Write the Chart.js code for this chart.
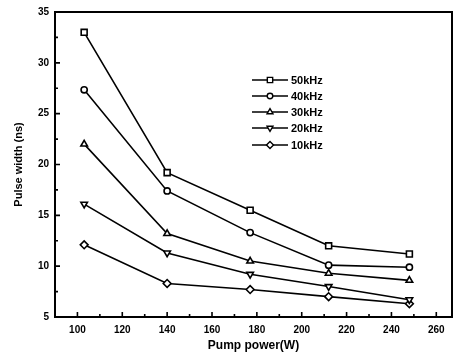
<!DOCTYPE html>
<html>
<head>
<meta charset="utf-8">
<script src="https://cdn.jsdelivr.net/npm/chart.js@4/dist/chart.umd.min.js"></script>
<style>
  html, body { margin: 0; padding: 0; background: #fff; }
  #wrap { width: 460px; height: 361px; }
</style>
</head>
<body>
<div id="wrap"><canvas id="pulseChart" width="460" height="361"></canvas></div>
<script>
// pump power (W) for each measurement
const pumpPower = [103, 140, 177, 212, 248];

// pulse width (ns) per repetition rate
const width50k = [33.0, 19.2, 15.5, 12.0, 11.2];
const width40k = [27.35, 17.4, 13.3, 10.1, 9.9];
const width30k = [22.0, 13.2, 10.5, 9.3, 8.6];
const width20k = [16.1, 11.3, 9.2, 8.0, 6.7];
const width10k = [12.1, 8.3, 7.7, 7.0, 6.3];

const seriesLabels = ['50kHz', '40kHz', '30kHz', '20kHz', '10kHz'];
const xTicks = [100, 120, 140, 160, 180, 200, 220, 240, 260];
const yTicks = [5, 10, 15, 20, 25, 30, 35];

const FONT = 'Liberation Sans, Arial, sans-serif';

const makeSet = (label, values, style, r, rot) => ({
    label: label,
    data: pumpPower.map((p, i) => ({ x: p, y: values[i] })),
    borderColor: '#000',
    borderWidth: 1.6,
    pointStyle: style,
    rotation: rot || 0,
    pointRadius: r,
    pointBorderWidth: 1.6,
    pointBackgroundColor: '#fff',
    pointBorderColor: '#000',
    fill: false,
    tension: 0
});

// legend drawn inside the plot: short line + marker + text
const insideLegend = {
    id: 'insideLegend',
    afterDraw(chart) {
        const ctx = chart.ctx;
        const x0 = 252, x1 = 288, ys = [80, 96, 112, 128, 145];
        ctx.save();
        chart.data.datasets.forEach((ds, i) => {
            const y = ys[i];
            ctx.strokeStyle = '#000';
            ctx.lineWidth = 1.4;
            ctx.beginPath();
            ctx.moveTo(x0, y);
            ctx.lineTo(x1, y);
            ctx.stroke();
            ctx.fillStyle = '#fff';
            ctx.lineWidth = 1.4;
            Chart.helpers.drawPoint(ctx, {
                pointStyle: ds.pointStyle, rotation: ds.rotation,
                radius: ds.pointRadius * 0.9, borderWidth: 1.4
            }, (x0 + x1) / 2, y);
            ctx.fillStyle = '#000';
            ctx.font = 'bold 11px ' + FONT;
            ctx.textBaseline = 'middle';
            ctx.fillText(ds.label, 291, y + 0.5);
        });
        ctx.restore();
    }
};

// inward tick marks and the frame
const frameTicks = {
    id: 'frameTicks',
    afterDraw(chart) {
        const ctx = chart.ctx;
        const a = chart.chartArea;
        const xs = chart.scales.x, ys = chart.scales.y;
        ctx.save();
        ctx.strokeStyle = '#000';
        ctx.lineWidth = 2;
        ctx.strokeRect(a.left, a.top, a.right - a.left, a.bottom - a.top);
        ctx.lineWidth = 1.6;
        ctx.beginPath();
        for (let v = 100; v <= 260; v += 10) {
            const px = xs.getPixelForValue(v);
            const len = v % 20 === 0 ? 5 : 3;
            ctx.moveTo(px, a.bottom);
            ctx.lineTo(px, a.bottom - len);
        }
        for (let v = 5; v <= 35; v += 2.5) {
            const py = ys.getPixelForValue(v);
            const len = v % 5 === 0 ? 5 : 3;
            ctx.moveTo(a.left, py);
            ctx.lineTo(a.left + len, py);
        }
        ctx.stroke();
        ctx.restore();
    }
};

new Chart(document.getElementById('pulseChart'), {
    type: 'line',
    data: {
        datasets: [
            makeSet(seriesLabels[0], width50k, 'rect', 4.2),
            makeSet(seriesLabels[1], width40k, 'circle', 3.1),
            makeSet(seriesLabels[2], width30k, 'triangle', 3.8),
            makeSet(seriesLabels[3], width20k, 'triangle', 3.8, 180),
            makeSet(seriesLabels[4], width10k, 'rectRot', 3.9)
        ]
    },
    options: {
        responsive: false,
        animation: false,
        layout: { padding: { top: 11, right: 8, left: 8, bottom: 4 } },
        scales: {
            x: {
                type: 'linear',
                min: 90,
                max: 267,
                afterBuildTicks: (s) => { s.ticks = xTicks.map(v => ({ value: v })); },
                afterFit: (s) => { s.height = 40; },
                grid: { display: false, drawTicks: false },
                border: { display: false },
                ticks: {
                    color: '#000',
                    padding: 7,
                    font: { family: FONT, size: 10, weight: 'bold' }
                },
                title: {
                    display: true,
                    text: 'Pump power(W)',
                    color: '#000',
                    padding: { top: 2 },
                    font: { family: FONT, size: 12, weight: 'bold' }
                }
            },
            y: {
                min: 5,
                max: 35,
                afterBuildTicks: (s) => { s.ticks = yTicks.map(v => ({ value: v })); },
                afterFit: (s) => { s.width = 47; },
                grid: { display: false, drawTicks: false },
                border: { display: false },
                ticks: {
                    color: '#000',
                    padding: 6,
                    font: { family: FONT, size: 10, weight: 'bold' }
                },
                title: {
                    display: true,
                    text: 'Pulse width (ns)',
                    color: '#000',
                    padding: { bottom: 4 },
                    font: { family: FONT, size: 11, weight: 'bold' }
                }
            }
        },
        plugins: {
            legend: { display: false },
            tooltip: { enabled: false }
        }
    },
    plugins: [frameTicks, insideLegend]
});
</script>
</body>
</html>
